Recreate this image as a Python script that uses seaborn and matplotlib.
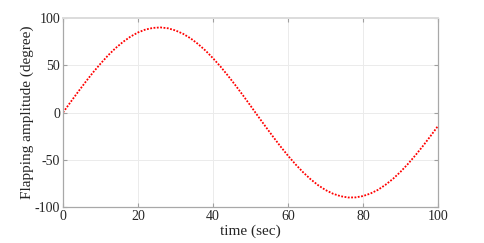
import matplotlib
matplotlib.use("Agg")
import matplotlib.pyplot as plt
import seaborn as sns

# time samples (sec) and flapping amplitude (degree)
time_sec = [0, 2, 4, 6, 8, 10, 12, 14, 16, 18, 20, 22, 24, 26, 28, 30, 32, 34, 36, 38,
            40, 42, 44, 46, 48, 50, 52, 54, 56, 58, 60, 62, 64, 66, 68, 70, 72, 74, 76, 78,
            80, 82, 84, 86, 88, 90, 92, 94, 96, 98, 100]
amplitude = [0.0, 11.0, 21.8, 32.3, 42.4, 51.7, 60.4, 68.1, 74.7, 80.3,
             84.7, 87.8, 89.5, 90.0, 89.1, 86.8, 83.3, 78.5, 72.5, 65.5,
             57.4, 48.6, 38.9, 28.7, 18.1, 7.2, -3.9, -14.8, -25.5, -35.9,
             -45.7, -54.8, -63.1, -70.5, -76.8, -82.0, -85.9, -88.5, -89.9, -89.8,
             -88.4, -85.7, -81.8, -76.5, -70.2, -62.8, -54.4, -45.2, -35.4, -25.0,
             -14.3]
x_ticks = [0, 20, 40, 60, 80, 100]
y_ticks = [-100, -50, 0, 50, 100]

sns.set_style("white")
plt.rcParams['font.family'] = ['Liberation Serif', 'DejaVu Serif']
plt.rcParams['mathtext.fontset'] = 'stix'

fig = plt.figure(figsize=(4.85, 2.43), dpi=100)
ax = fig.add_axes([0.130, 0.148, 0.773, 0.778])

sns.lineplot(x=time_sec, y=amplitude, color='red', linewidth=1.3, ax=ax)
line = ax.lines[0]
line.set_dashes((1, 0.85))
line.set_dash_capstyle('butt')

ax.set_xlim(0, 100)
ax.set_ylim(-100, 100)
ax.set_xticks(x_ticks)
ax.set_yticks(y_ticks)
ax.set_xticklabels([str(t) for t in x_ticks])
ax.set_yticklabels([str(t) for t in y_ticks])
ax.grid(True, color='#ebebeb', linewidth=0.7)
ax.set_axisbelow(True)

for side in ['left', 'bottom', 'right']:
    ax.spines[side].set_color('#a8a8a8')
    ax.spines[side].set_linewidth(0.9)
    ax.spines[side].set_visible(True)
ax.spines['top'].set_color('#dcdcdc')
ax.spines['top'].set_linewidth(1.4)
ax.spines['top'].set_visible(True)

ax.tick_params(direction='in', length=3, width=0.8, color='#a0a0a0',
               top=True, right=True, bottom=True, left=True,
               labelsize=10, labelcolor='#262626', pad=2)

ax.set_xlabel('time (sec)', fontsize=11, color='#262626', labelpad=1)
ax.set_ylabel('Flapping amplitude (degree)', fontsize=11, color='#262626', labelpad=1)

fig.savefig('out.png', dpi=100)
